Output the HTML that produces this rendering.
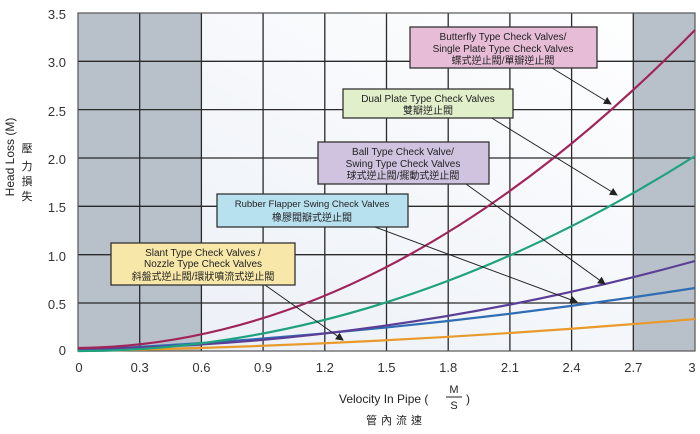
<!DOCTYPE html>
<html><head><meta charset="utf-8"><style>
html,body{margin:0;padding:0;background:#fff;}
svg{display:block;font-family:"Liberation Sans","Noto Sans CJK TC",sans-serif;}
</style></head><body>
<svg width="700" height="434" viewBox="0 0 700 434" xmlns="http://www.w3.org/2000/svg">
<defs>
<linearGradient id="bg" x1="0" y1="1" x2="1" y2="0">
<stop offset="0" stop-color="#eaeff6"/><stop offset="1" stop-color="#ffffff"/>
</linearGradient>
<marker id="ar" markerWidth="8" markerHeight="8" refX="7" refY="4" orient="auto" markerUnits="userSpaceOnUse">
<path d="M0,0 L8,4 L0,8 z" fill="#222"/></marker>
</defs>
<rect x="78" y="13" width="617" height="338" fill="url(#bg)"/>
<rect x="78" y="13" width="123.4" height="338" fill="#b8c1c9"/>
<rect x="633.3" y="13" width="61.7" height="338" fill="#b8c1c9"/>
<g stroke="#2a2a2a" stroke-width="1.3" fill="none">
<path d="M139.7,13V351M201.4,13V351M263.1,13V351M324.8,13V351M386.5,13V351M448.2,13V351M509.9,13V351M571.6,13V351M633.3,13V351"/>
<path d="M78,61.3H695M78,109.6H695M78,158H695M78,206.3H695M78,254.7H695M78,303H695"/>
</g>
<rect x="78" y="13" width="617" height="338" fill="none" stroke="#555" stroke-width="1.2"/>
<g fill="none" stroke-width="2.2">
<path d="M78,351 Q386.5,345.5 695,319" stroke="#e89b2a"/>
<path d="M78,350 Q386.5,336 695,288" stroke="#2f6db5"/>
<path d="M78,349 Q386.5,346 695,261" stroke="#5b3f96"/>
<path d="M78,351 Q386.5,351 695,156" stroke="#1fa37f"/>
<path d="M78,348 Q386.5,345 695,30" stroke="#a0245a"/>
</g>
<g stroke="#222" stroke-width="1" marker-end="url(#ar)">
<line x1="552" y1="68" x2="611" y2="104"/>
<line x1="490" y1="117" x2="617" y2="195"/>
<line x1="466" y1="184" x2="605" y2="284"/>
<line x1="375" y1="227" x2="577" y2="302"/>
<line x1="265" y1="285" x2="343" y2="340"/>
</g>
<g stroke="#333" stroke-width="1.3" font-size="10" fill="#222" text-anchor="middle">
<rect x="410" y="27" width="187" height="41" fill="#e7bcd6"/>
<rect x="343" y="89" width="170" height="29" fill="#e2efcb"/>
<rect x="318" y="142" width="171" height="42" fill="#cfc3e0"/>
<rect x="217" y="194" width="191" height="33" fill="#b7e1ef"/>
<rect x="111" y="243" width="184" height="42" fill="#f7e7a8"/>
</g>
<g font-size="10" fill="#222" text-anchor="middle">
<text x="503" y="40">Butterfly Type Check Valves/</text>
<text x="503" y="52">Single Plate Type Check Valves</text>
<text x="503" y="64">蝶式逆止閥/單瓣逆止閥</text>
<text x="428" y="102">Dual Plate Type Check Valves</text>
<text x="428" y="114">雙瓣逆止閥</text>
<text x="403" y="155">Ball Type Check Valve/</text>
<text x="403" y="167">Swing Type Check Valves</text>
<text x="403" y="179">球式逆止閥/擺動式逆止閥</text>
<text x="312" y="207" font-size="9.5">Rubber Flapper Swing Check Valves</text>
<text x="312" y="221">橡膠閥瓣式逆止閥</text>
<text x="203" y="256">Slant Type Check Valves /</text>
<text x="203" y="267">Nozzle Type Check Valves</text>
<text x="203" y="280">斜盤式逆止閥/環狀噴流式逆止閥</text>
</g>
<g font-size="13" fill="#333" text-anchor="end">
<text x="66" y="19">3.5</text><text x="66" y="67">3.0</text><text x="66" y="116">2.5</text>
<text x="66" y="164">2.0</text><text x="66" y="212">1.5</text><text x="66" y="261">1.0</text>
<text x="66" y="309">0.5</text><text x="66" y="355">0</text>
</g>
<g font-size="13" fill="#333" text-anchor="middle">
<text x="79" y="372">0</text><text x="139.7" y="372">0.3</text><text x="201.4" y="372">0.6</text>
<text x="263.1" y="372">0.9</text><text x="324.8" y="372">1.2</text><text x="386.5" y="372">1.5</text>
<text x="448.2" y="372">1.8</text><text x="509.9" y="372">2.1</text><text x="571.6" y="372">2.4</text>
<text x="633.3" y="372">2.7</text><text x="692" y="372">3</text>
</g>
<text x="339" y="403" font-size="12" fill="#222">Velocity In Pipe (</text>
<text x="454" y="393" font-size="11" fill="#222" text-anchor="middle">M</text>
<line x1="446" y1="397" x2="462" y2="397" stroke="#222" stroke-width="1"/>
<text x="454" y="409" font-size="11" fill="#222" text-anchor="middle">S</text>
<text x="466" y="403" font-size="12" fill="#222">)</text>
<text x="396" y="424" font-size="11" fill="#222" text-anchor="middle" letter-spacing="4">管內流速</text>
<text transform="translate(14,157) rotate(-90)" font-size="12" fill="#222" text-anchor="middle">Head Loss (M)</text>
<g font-size="11" fill="#222" text-anchor="middle">
<text x="27" y="152">壓</text><text x="27" y="170">力</text><text x="27" y="185">損</text><text x="27" y="200">失</text>
</g>
</svg>
</body></html>
